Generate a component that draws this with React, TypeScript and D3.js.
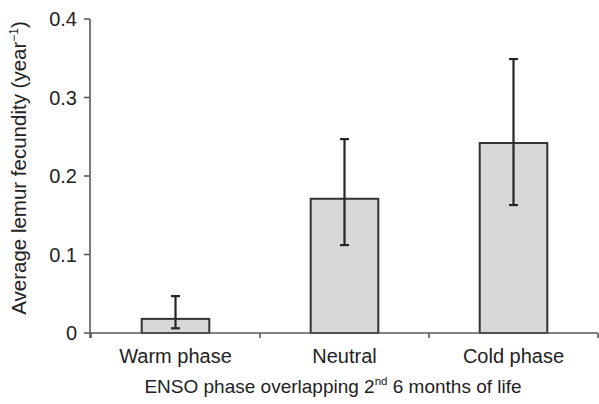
// @ts-nocheck
import * as d3 from "d3";
import React from "react";

const categories = ["Warm phase", "Neutral", "Cold phase"];
const fecundity = [0.018, 0.171, 0.242];
const lowerBound = [0.006, 0.112, 0.163];
const upperBound = [0.047, 0.247, 0.349];
const yTicks = [0, 0.1, 0.2, 0.3, 0.4];

const width = 599;
const height = 404;
const marginLeft = 90;
const marginRight = 1;
const marginTop = 19;
const marginBottom = 71;
const font = "'Liberation Sans', Arial, sans-serif";
const textColor = "#222";
const axisColor = "#5a5a5a";

export default function App() {
  const x = d3
    .scaleBand()
    .domain(categories)
    .range([marginLeft + 1, width - marginRight])
    .paddingInner(0.6)
    .paddingOuter(0.3);
  const y = d3
    .scaleLinear()
    .domain([0, 0.4])
    .range([height - marginBottom, marginTop]);
  const step = x.step();
  const x0 = x.range()[0];
  const y0 = y(0);
  const fmt = (d) => (d === 0 ? "0" : d3.format(".1f")(d));

  return (
    <svg
      width={width}
      height={height}
      style={{ position: "absolute", left: 0, top: 0, background: "#fff" }}
      fontFamily={font}
    >
      {/* bars */}
      {categories.map((c, i) => (
        <rect
          key={c}
          x={x(c)}
          y={y(fecundity[i])}
          width={x.bandwidth()}
          height={y0 - y(fecundity[i])}
          fill="#d8d8d8"
          stroke="#333"
          strokeWidth={2}
        />
      ))}
      {/* error bars */}
      {categories.map((c, i) => {
        const cx = x(c) + x.bandwidth() / 2;
        return (
          <g key={c} stroke="#262626" strokeWidth={2.2}>
            <line x1={cx} x2={cx} y1={y(lowerBound[i])} y2={y(upperBound[i])} />
            <line x1={cx - 4.5} x2={cx + 4.5} y1={y(upperBound[i])} y2={y(upperBound[i])} />
            <line x1={cx - 4.5} x2={cx + 4.5} y1={y(lowerBound[i])} y2={y(lowerBound[i])} />
          </g>
        );
      })}
      {/* y axis */}
      <g stroke={axisColor} strokeWidth={1.6}>
        <line x1={marginLeft} x2={marginLeft} y1={y(0.4)} y2={y0 + 5} />
        {yTicks.map((t) => (
          <line key={t} x1={marginLeft - 6} x2={marginLeft} y1={y(t)} y2={y(t)} />
        ))}
      </g>
      {yTicks.map((t) => (
        <text
          key={t}
          x={marginLeft - 13}
          y={y(t)}
          dy="0.36em"
          textAnchor="end"
          fontSize={20}
          fill={textColor}
        >
          {fmt(t)}
        </text>
      ))}
      {/* x axis */}
      <g stroke={axisColor} strokeWidth={1.6}>
        <line x1={marginLeft} x2={width - marginRight} y1={y0} y2={y0} />
        {d3.range(categories.length + 1).map((i) => (
          <line
            key={i}
            x1={Math.min(x0 + i * step, width - 1)}
            x2={Math.min(x0 + i * step, width - 1)}
            y1={y0}
            y2={y0 + 5}
          />
        ))}
      </g>
      {categories.map((c) => (
        <text
          key={c}
          x={x(c) + x.bandwidth() / 2}
          y={y0 + 30}
          textAnchor="middle"
          fontSize={20}
          fill={textColor}
        >
          {c}
        </text>
      ))}
      {/* axis titles */}
      <text x={333} y={393} textAnchor="middle" fontSize={19} fill={textColor}>
        ENSO phase overlapping 2
        <tspan fontSize={11.5} dy={-8}>nd</tspan>
        <tspan dy={8}> 6 months of life</tspan>
      </text>
      <text
        transform={`translate(26,${(y(0) + y(0.4)) / 2 - 8}) rotate(-90)`}
        textAnchor="middle"
        fontSize={20.5}
        fill={textColor}
      >
        Average lemur fecundity (year
        <tspan fontSize={12} dy={-8}>−1</tspan>
        <tspan dy={8}>)</tspan>
      </text>
    </svg>
  );
}
